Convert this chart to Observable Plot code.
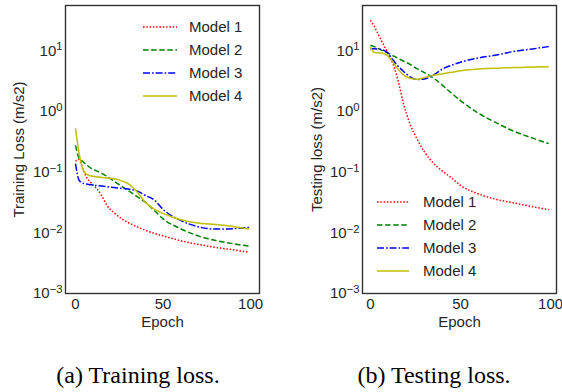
<!DOCTYPE html>
<html><head><meta charset="utf-8">
<script src="https://cdn.jsdelivr.net/npm/d3@7"></script>
<script src="https://cdn.jsdelivr.net/npm/@observablehq/plot@0.6"></script>
<style>
body{margin:0;background:#fff;width:562px;height:392px;position:relative;overflow:hidden;font-family:"Liberation Sans",Arial,sans-serif}
#a,#b{position:absolute;top:0}
#a{left:0}
#b{left:281px}
.cap{position:absolute;top:363px;font-family:"Liberation Serif","Times New Roman",serif;font-size:24px;line-height:24px;color:#000;white-space:nowrap;transform:translateX(-50%)}
</style></head><body>
<div id="a"></div><div id="b"></div>
<div class="cap" style="left:138px">(a) Training loss.</div>
<div class="cap" style="left:434px">(b) Testing loss.</div>
<script>
const epochs = [0, 2, 4, 6, 9, 12, 15, 18, 22, 26, 30, 35, 40, 45, 50, 60, 70, 80, 90, 99];
const models = ["Model 1", "Model 2", "Model 3", "Model 4"];

const trainModel1 = [0.151, 0.162, 0.117, 0.0851, 0.0661, 0.0537, 0.0407, 0.0282, 0.0214, 0.0174, 0.0148, 0.0126, 0.0110, 0.00977, 0.00891, 0.00741, 0.00646, 0.00575, 0.00525, 0.00479];
const trainModel2 = [0.275, 0.170, 0.151, 0.135, 0.115, 0.105, 0.0955, 0.0851, 0.0708, 0.0595, 0.0501, 0.0398, 0.0316, 0.0234, 0.0170, 0.0117, 0.00891, 0.00750, 0.00661, 0.00603];
const trainModel3 = [0.138, 0.0741, 0.0661, 0.0638, 0.0617, 0.0600, 0.0589, 0.0575, 0.0556, 0.0541, 0.0525, 0.0490, 0.0411, 0.0347, 0.0243, 0.0160, 0.0126, 0.0115, 0.0117, 0.0123];
const trainModel4 = [0.528, 0.209, 0.117, 0.0933, 0.0861, 0.0841, 0.0817, 0.0800, 0.0780, 0.0724, 0.0646, 0.0479, 0.0316, 0.0245, 0.0209, 0.0164, 0.0145, 0.0137, 0.0127, 0.0115];

const testModel1 = [31.6, 25.7, 19.5, 14.8, 10.0, 6.61, 3.55, 1.48, 0.617, 0.347, 0.216, 0.140, 0.104, 0.0804, 0.0603, 0.0437, 0.0355, 0.0309, 0.0269, 0.0240];
const testModel2 = [12.3, 11.7, 11.0, 10.2, 9.33, 8.41, 7.59, 6.84, 5.96, 5.01, 4.37, 3.55, 2.69, 2.00, 1.51, 0.933, 0.646, 0.468, 0.363, 0.295];
const testModel3 = [10.7, 10.8, 10.7, 10.5, 9.55, 7.41, 5.70, 4.68, 3.72, 3.36, 3.43, 3.98, 5.01, 5.75, 6.46, 7.59, 8.51, 9.77, 10.7, 11.7];
const testModel4 = [11.5, 9.44, 9.23, 9.16, 8.51, 6.76, 5.13, 4.07, 3.51, 3.39, 3.61, 3.94, 4.16, 4.40, 4.68, 5.01, 5.16, 5.27, 5.37, 5.43];

const xTicks = [0, 50, 100];
const yTicks = [1e-3, 1e-2, 1e-1, 1, 10];

const colors = ["#ff0000", "#008000", "#0000ff", "#bfbf00"];
const dashes = ["1.5,1.8", "5.5,2.6", "7,2,1.6,2", null];

function rowsOf(seriesList) {
  const rows = [];
  seriesList.forEach((vals, i) => vals.forEach((v, j) => rows.push({epoch: epochs[j], value: v, model: models[i]})));
  return rows;
}

function makePlot(seriesList, o) {
  const rows = rowsOf(seriesList);
  const lines = models.map((m, i) => Plot.line(rows.filter(r => r.model === m), {
    x: "epoch", y: "value", stroke: colors[i], strokeWidth: 1.5,
    strokeDasharray: dashes[i] || undefined, strokeLinecap: "butt", curve: "monotone-x"
  }));
  const svg = Plot.plot({
    width: 281, height: 335,
    marginLeft: o.ml, marginRight: o.mr, marginTop: 5, marginBottom: 42,
    style: {fontFamily: "'Liberation Sans', Arial, sans-serif", fontSize: "15px", color: "#262626", background: "transparent", overflow: "visible"},
    x: {domain: o.xd},
    y: {type: "log", domain: [1e-3, 55.6]},
    marks: [
      Plot.axisX({ticks: xTicks, tickSize: 0, tickPadding: 5, tickFormat: d => String(d), label: "Epoch", labelAnchor: "center", labelOffset: 33, labelArrow: "none"}),
      Plot.axisY({ticks: yTicks, tickSize: 0, tickPadding: 3, tickFormat: d => "10^" + String(Math.round(Math.log10(d))).replace("-", "\u2212"), label: o.ylabel, labelAnchor: "center", labelOffset: o.lo, labelArrow: "none"}),
      ...lines,
      Plot.frame({stroke: "#333333", strokeWidth: 1.4})
    ]
  });
  // superscript exponents
  d3.select(svg).selectAll('g[aria-label="y-axis tick label"] text').each(function() {
    const t = this.textContent;
    const m = t.match(/^10\^(.*)$/);
    if (m) {
      this.textContent = "10";
      d3.select(this).append("tspan").attr("dy", "-0.45em").attr("font-size", "0.75em").text(m[1]);
    }
  });
  // legend
  const g = d3.select(svg).append("g").attr("aria-label", "legend");
  models.forEach((m, i) => {
    g.append("line").attr("x1", o.lx0).attr("x2", o.lx1).attr("y1", o.ly[i]).attr("y2", o.ly[i])
      .attr("stroke", colors[i]).attr("stroke-width", 1.5).attr("stroke-dasharray", dashes[i]);
    g.append("text").attr("x", o.tx).attr("y", o.ly[i]).attr("dy", "0.36em").attr("fill", "#262626")
      .attr("text-anchor", "start")
      .style("font-family", "'Liberation Sans', Arial, sans-serif").style("font-size", "15px").text(m);
  });
  return svg;
}

document.getElementById("a").appendChild(makePlot([trainModel1, trainModel2, trainModel3, trainModel4], {
  ml: 65, mr: 22, xd: [-5.7, 105.1], ylabel: "Training Loss (m/s2)", lo: 52,
  lx0: 143, lx1: 177, tx: 189, ly: [27, 50, 73, 96]
}));
document.getElementById("b").appendChild(makePlot([testModel1, testModel2, testModel3, testModel4], {
  ml: 81, mr: 6, xd: [-4.4, 103.3], ylabel: "Testing loss (m/s2)", lo: 51,
  lx0: 96, lx1: 128, tx: 142, ly: [202, 225, 248, 271]
}));
</script>
</body></html>
